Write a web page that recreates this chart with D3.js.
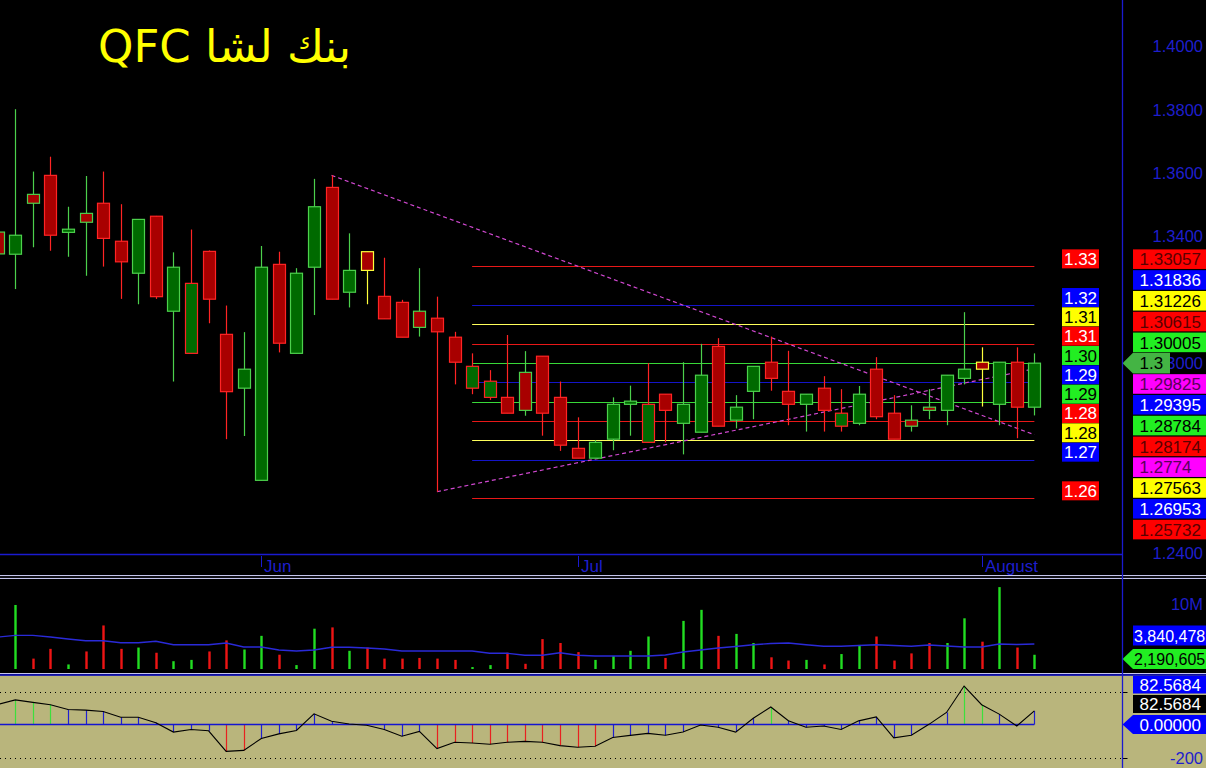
<!DOCTYPE html>
<html><head><meta charset="utf-8">
<script src="https://cdn.jsdelivr.net/npm/d3@7"></script>
<style>html,body{margin:0;padding:0;background:#000;overflow:hidden}</style>
</head><body>
<svg id="c" width="1206" height="768"></svg>
<script>
// ---------------- DATA ----------------
const title = "QFC بنك لشا";
const open  = [1.3414,1.3344,1.3533,1.3593,1.3413,1.3473,1.3505,1.3385,1.3284,1.3464,
               1.3164,1.3031,1.3353,1.3091,1.2921,1.2630,1.3312,1.3031,1.3303,1.3555,
               1.3224,1.3352,1.3211,1.3192,1.3164,1.3142,1.3082,1.2921,1.2892,1.2892,
               1.2971,1.3022,1.2892,1.2731,1.2700,1.2760,1.2870,1.2750,1.2902,1.2810,
               1.2782,1.3053,1.2820,1.2911,1.3003,1.2911,1.2870,1.2921,1.2801,1.2810,
               1.2981,1.2842,1.2820,1.2861,1.2851,1.2952,1.3003,1.2870,1.3003,1.2861];
const high  = [1.3436,1.3802,1.3605,1.3652,1.3494,1.3591,1.3605,1.3502,1.3454,1.3465,
               1.3350,1.3422,1.3356,1.3182,1.3098,1.3370,1.3352,1.3300,1.3582,1.3593,
               1.3410,1.3352,1.3333,1.3200,1.3300,1.3210,1.3099,1.3031,1.2978,1.3089,
               1.3038,1.3022,1.2942,1.2829,1.2757,1.2892,1.2929,1.3000,1.2902,1.3003,
               1.3061,1.3079,1.2899,1.2990,1.3084,1.3039,1.2902,1.2959,1.2918,1.2928,
               1.3019,1.2899,1.2867,1.2918,1.2962,1.3161,1.3050,1.3003,1.3050,1.3031];
const low   = [1.3320,1.3234,1.3366,1.3355,1.3336,1.3276,1.3305,1.3203,1.3186,1.3203,
               1.2942,1.3031,1.3126,1.2760,1.2770,1.2630,1.3034,1.3031,1.3152,1.3202,
               1.3176,1.3186,1.3140,1.3082,1.3084,1.2594,1.2933,1.2902,1.2884,1.2842,
               1.2834,1.2771,1.2723,1.2700,1.2700,1.2725,1.2771,1.2750,1.2750,1.2712,
               1.2782,1.2801,1.2794,1.2823,1.2913,1.2804,1.2784,1.2784,1.2784,1.2804,
               1.2823,1.2760,1.2784,1.2823,1.2804,1.2933,1.2863,1.2804,1.2763,1.2835];
const close = [1.3345,1.3404,1.3505,1.3404,1.3423,1.3445,1.3394,1.3320,1.3454,1.3210,
               1.3303,1.3252,1.3202,1.2910,1.2981,1.3303,1.3063,1.3284,1.3494,1.3202,
               1.3293,1.3293,1.3140,1.3082,1.3113,1.3099,1.3003,1.2990,1.2943,1.2842,
               1.2851,1.2842,1.2741,1.2700,1.2750,1.2870,1.2880,1.2870,1.2851,1.2870,
               1.2962,1.2801,1.2861,1.2990,1.2952,1.2870,1.2902,1.2851,1.2842,1.2902,
               1.2831,1.2760,1.2801,1.2851,1.2962,1.2981,1.2981,1.3003,1.2861,1.3000];
const volume = [3000000,9850000,1600000,3100000,700000,2700000,6700000,3100000,3300000,2500000,
                1200000,1400000,2700000,4400000,3000000,5100000,2200000,600000,6200000,6400000,
                2800000,3300000,1600000,1600000,1700000,1600000,1400000,300000,600000,2500000,
                800000,4600000,4000000,2600000,1400000,2000000,2800000,5000000,1700000,7400000,
                9100000,5100000,5400000,4000000,1800000,1300000,1400000,700000,2300000,3700000,
                5000000,1300000,2400000,4000000,4000000,7800000,4200000,12600000,3300000,2190605];
const volumeMA = [4.90,5.18,5.18,4.92,4.62,4.35,4.35,4.05,4.05,4.26,
                  3.74,3.74,3.74,4.00,3.38,3.38,2.92,2.77,2.92,3.34,
                  3.34,3.23,3.08,2.77,2.77,2.77,2.77,2.77,2.42,2.42,
                  2.11,2.11,2.51,2.11,2.00,2.00,2.00,2.00,2.15,2.62,
                  2.92,3.23,3.46,3.74,3.92,4.00,3.74,3.49,3.49,3.62,
                  3.74,3.62,3.49,3.69,3.54,3.38,3.38,3.85,3.77,3.840478]; // millions
const oscillator = [121,149,134,120,91,87,79,44,44,11,
                    -46,-30,-38,-163,-157,-85,-57,-36,65,20,
                    3,-5,-30,-71,-42,-146,-108,-112,-120,-108,
                    -102,-108,-128,-138,-132,-79,-66,-54,-65,-46,
                    -3,-17,-46,38,106,23,-17,-9,-30,22,
                    46,-81,-65,1,73,233,120,63,-9,82.5684];
const monthTickBars = [15,33,56];
const monthLabels = ["Jun","Jul","August"];
const priceTicks = [1.24,1.26,1.28,1.30,1.32,1.34,1.36,1.38,1.40];
const levels = [1.33057,1.31836,1.31226,1.30615,1.30005,1.29395,1.28784,1.28174,1.27563,1.26953,1.25732];
const levelKinds = ["red","blue","yellow","red","green","blue","green","red","yellow","blue","red"];
const levelFromBar = 27, levelToBar = 59;
const trendDown = [[19,1.3593],[59,1.2774]];
const trendUp   = [[25,1.2594],[59,1.29825]];
const oscTicks = [200,-200];

// ---------------- STYLE ----------------
const W=1206, H=768;
const AXIS_X=1122.5;
const C = {
  bg:"#000", axis:"#1a1ad0", axisText:"#1e1ecc",
  upFill:"#006a00", dnFill:"#a80000", upLine:"#4cd04c", dnLine:"#ff2424", flatLine:"#ffff3c",
  sep:"#c4c4ec", khaki:"#b9b57c", magenta:"#d048d0"
};
const lineCol = {red:"#e81818", blue:"#1414c8", yellow:"#ffff5a", green:"#38d838"};
const boxCol  = {red:"#ff0000", blue:"#0000ff", yellow:"#ffff00", green:"#22ee22", magenta:"#ff00ff"};
const leftTxt = {red:"#ffffff", blue:"#ffffff", yellow:"#000000", green:"#000000"};
const rightTxt= {red:"#5a0000", blue:"#ffffff", yellow:"#000000", green:"#000000", magenta:"#5a005a"};
const FONT = "'Liberation Sans', Arial, sans-serif";

const svg = d3.select("#c");
svg.append("rect").attr("width",W).attr("height",H).attr("fill",C.bg);

const n = close.length;
const x = d3.scalePoint().domain(d3.range(n)).range([-2.27, 1034.36]);
const bw = 12;
const y = d3.scaleLinear().domain([1.23974, 1.41468]).range([554, 0]);

// ---------- price pane ----------
const pane = svg.append("g");
pane.selectAll("line.lvl").data(levels).join("line")
  .attr("x1", x(levelFromBar)).attr("x2", x(levelToBar))
  .attr("y1", d=>Math.round(y(d))+0.5).attr("y2", d=>Math.round(y(d))+0.5)
  .attr("stroke",(d,i)=>lineCol[levelKinds[i]]).attr("stroke-width",1.2);
[trendDown,trendUp].forEach(t=>{
  pane.append("line").attr("x1",x(t[0][0])).attr("y1",y(t[0][1]))
    .attr("x2",x(t[1][0])).attr("y2",y(t[1][1]))
    .attr("stroke",C.magenta).attr("stroke-width",1.2).attr("stroke-dasharray","4,3");
});
const idx = d3.range(n);
const bord = i => { const pc = i===0 ? close[0]-0.001 : close[i-1];
  return close[i]>pc+1e-9 ? C.upLine : (close[i]<pc-1e-9 ? C.dnLine : C.flatLine); };
pane.selectAll("line.wick").data(idx).join("line")
  .attr("x1",i=>Math.round(x(i))+0.5).attr("x2",i=>Math.round(x(i))+0.5)
  .attr("y1",i=>y(high[i])).attr("y2",i=>y(low[i]))
  .attr("stroke",bord).attr("stroke-width",1.2);
pane.selectAll("rect.body").data(idx).join("rect")
  .attr("x",i=>Math.round(x(i))-bw/2+0.5)
  .attr("y",i=>y(Math.max(open[i],close[i])))
  .attr("width",bw)
  .attr("height",i=>Math.max(1.5, Math.abs(y(open[i])-y(close[i]))))
  .attr("fill",i=>close[i]>=open[i]?C.upFill:C.dnFill)
  .attr("stroke",bord).attr("stroke-width",1.2);

svg.append("line").attr("x1",0).attr("x2",AXIS_X).attr("y1",554.5).attr("y2",554.5)
  .attr("stroke",C.axis).attr("stroke-width",1.3);
monthTickBars.forEach((b,k)=>{
  const xx = Math.round(x(b))+0.5;
  svg.append("line").attr("x1",xx).attr("x2",xx).attr("y1",556).attr("y2",567)
    .attr("stroke",C.axis).attr("stroke-width",1);
  svg.append("text").attr("x",xx+2.5).attr("y",571.5).text(monthLabels[k])
    .attr("font-family",FONT).attr("font-size",17).attr("fill",C.axisText);
});

// right labels (stacked around the last price) - computed first so covered ticks can be skipped
const last = close[n-1];
const others = levels.map((v,i)=>({v,kind:levelKinds[i]}))
  .concat([{v:trendUp[1][1],kind:"magenta"},{v:trendDown[1][1],kind:"magenta"}]);
const PITCH=20.8;
const anchorY = y(last);
const above = others.filter(d=>d.v>last).sort((a,b)=>a.v-b.v);
const below = others.filter(d=>d.v<=last).sort((a,b)=>b.v-a.v);
let prev = anchorY;
above.forEach(d=>{ d.cy = Math.min(y(d.v), prev-PITCH); prev=d.cy; });
prev = anchorY;
below.forEach(d=>{ d.cy = Math.max(y(d.v), prev+PITCH); prev=d.cy; });
const boxes = above.concat(below);
const covered = t => Math.abs(y(t)-anchorY) > 3 && boxes.some(b=>Math.abs(b.cy-y(t))<11);

// price tick labels (those fully hidden behind the value boxes are not drawn)
svg.selectAll("text.pt").data(priceTicks.filter(t=>!covered(t))).join("text")
  .attr("x",1203).attr("y",d=>y(d)+6).attr("text-anchor","end")
  .attr("font-family",FONT).attr("font-size",16.5).attr("fill",C.axisText)
  .text(d=>d3.format(".4f")(d));

// left level labels
const lg = svg.append("g");
levels.forEach((v,i)=>{
  const cy = y(v)-7.5;
  lg.append("rect").attr("x",1062).attr("y",cy-9.5).attr("width",37).attr("height",19)
    .attr("fill",boxCol[levelKinds[i]]);
  lg.append("text").attr("x",1080.5).attr("y",cy+6).attr("text-anchor","middle")
    .attr("font-family",FONT).attr("font-size",17).attr("fill",leftTxt[levelKinds[i]])
    .text(d3.format(".2f")(v));
});

const fmt = d3.format(".5~f");
const rg = svg.append("g");
boxes.forEach(d=>{
  rg.append("rect").attr("x",1133).attr("y",d.cy-9.8).attr("width",80).attr("height",19.6)
    .attr("fill",boxCol[d.kind]);
  rg.append("text").attr("x",1139.5).attr("y",d.cy+6.2)
    .attr("font-family",FONT).attr("font-size",17).attr("fill",rightTxt[d.kind]).text(fmt(d.v));
});
rg.append("path").attr("d",`M${AXIS_X},${anchorY} L1133,${anchorY-10.3} L1170,${anchorY-10.3} L1170,${anchorY+10.3} L1133,${anchorY+10.3} Z`)
  .attr("fill","#44b444");
rg.append("text").attr("x",1139.5).attr("y",anchorY+6.2).attr("font-family",FONT)
  .attr("font-size",17).attr("fill","#000").text(fmt(last));

// ---------- volume pane ----------
const yv = d3.scaleLinear().domain([0,10000000]).range([669,604]);
svg.selectAll("rect.vol").data(idx).join("rect")
  .attr("x",i=>Math.round(x(i))-0.7).attr("width",2.4)
  .attr("y",i=>yv(volume[i])).attr("height",i=>669-yv(volume[i]))
  .attr("fill",i=>close[i]>=open[i]?"#22dd22":"#ee1414");
svg.append("path").datum(idx)
  .attr("d",d3.line().x(i=>x(i)).y(i=>yv(volumeMA[i]*1e6)))
  .attr("fill","none").attr("stroke","#2a2ad8").attr("stroke-width",1.4);
svg.append("text").attr("x",1203).attr("y",yv(10000000)+6).attr("text-anchor","end")
  .attr("font-family",FONT).attr("font-size",16.5).attr("fill",C.axisText).text("10M");
const vfmt = d3.format(",.0f");
const maLast = volumeMA[n-1]*1e6;
svg.append("rect").attr("x",1133).attr("y",625.5).attr("width",80).attr("height",20).attr("fill","#0000ff");
svg.append("text").attr("x",1134).attr("y",641.5).attr("font-family",FONT).attr("font-size",16)
  .attr("fill","#fff").text(vfmt(maLast));
const vy = 659;
svg.append("path").attr("d",`M${AXIS_X},${vy} L1133,${vy-10} L1213,${vy-10} L1213,${vy+10} L1133,${vy+10} Z`).attr("fill","#22ee22");
svg.append("text").attr("x",1134).attr("y",vy+6).attr("font-family",FONT).attr("font-size",16)
  .attr("fill","#000").text(vfmt(volume[n-1]));

// ---------- oscillator pane ----------
const yo = d3.scaleLinear().domain([-200,200]).range([757.5,691.5]);
svg.append("rect").attr("x",0).attr("y",675.5).attr("width",W).attr("height",H-675.5).attr("fill",C.khaki);
oscTicks.forEach(t=>{
  svg.append("line").attr("x1",0).attr("x2",AXIS_X).attr("y1",Math.round(yo(t))+0.5).attr("y2",Math.round(yo(t))+0.5)
    .attr("stroke","#000").attr("stroke-width",1).attr("stroke-dasharray","1,4");
  svg.append("line").attr("x1",AXIS_X).attr("x2",AXIS_X+5).attr("y1",Math.round(yo(t))+0.5).attr("y2",Math.round(yo(t))+0.5)
    .attr("stroke","#000").attr("stroke-width",1);
});
svg.selectAll("line.osc").data(idx).join("line")
  .attr("x1",i=>Math.round(x(i))+0.5).attr("x2",i=>Math.round(x(i))+0.5)
  .attr("y1",yo(0)).attr("y2",i=>yo(oscillator[i]))
  .attr("stroke",i=>oscillator[i]>100?"#3ce03c":(oscillator[i]<-100?"#e82020":"#2020d0"))
  .attr("stroke-width",1.2);
svg.append("line").attr("x1",0).attr("x2",x(n-1)).attr("y1",yo(0)).attr("y2",yo(0))
  .attr("stroke","#1414d0").attr("stroke-width",1.5);
svg.append("path").datum(idx)
  .attr("d",d3.line().x(i=>x(i)).y(i=>yo(oscillator[i])))
  .attr("fill","none").attr("stroke","#000").attr("stroke-width",1.1);
const ofmt = d3.format(".4f");
svg.append("rect").attr("x",1133).attr("y",676).attr("width",80).attr("height",17.5).attr("fill","#0000ff");
svg.append("text").attr("x",1139.5).attr("y",690.5).attr("font-family",FONT).attr("font-size",17)
  .attr("fill","#fff").text(ofmt(oscillator[n-1]));
svg.append("rect").attr("x",1133).attr("y",695).attr("width",80).attr("height",18).attr("fill","#000");
svg.append("text").attr("x",1139.5).attr("y",709.5).attr("font-family",FONT).attr("font-size",17)
  .attr("fill","#fff").text(ofmt(oscillator[n-1]));
const zy = yo(0);
svg.append("path").attr("d",`M${AXIS_X},${zy} L1133,${zy-9.5} L1213,${zy-9.5} L1213,${zy+9.5} L1133,${zy+9.5} Z`).attr("fill","#0000ff");
svg.append("text").attr("x",1139.5).attr("y",zy+6.2).attr("font-family",FONT).attr("font-size",17)
  .attr("fill","#fff").text(d3.format(".5f")(0));
svg.append("text").attr("x",1203).attr("y",yo(-200)+6).attr("text-anchor","end")
  .attr("font-family",FONT).attr("font-size",16.5).attr("fill",C.axisText).text(String(oscTicks[1]));

// ---------- separators & right axis ----------
[575.5,578.5].forEach(yy=>svg.append("line").attr("x1",0).attr("x2",W).attr("y1",yy).attr("y2",yy)
  .attr("stroke",C.sep).attr("stroke-width",1));
svg.append("rect").attr("x",0).attr("y",576).attr("width",W).attr("height",2).attr("fill","#101018");
svg.append("line").attr("x1",0).attr("x2",W).attr("y1",673.5).attr("y2",673.5).attr("stroke",C.sep).attr("stroke-width",1);
svg.append("line").attr("x1",0).attr("x2",W).attr("y1",675).attr("y2",675).attr("stroke","#1414d0").attr("stroke-width",1.5);
svg.append("line").attr("x1",AXIS_X).attr("x2",AXIS_X).attr("y1",0).attr("y2",H)
  .attr("stroke",C.axis).attr("stroke-width",1.3);

// ---------- title ----------
svg.append("text").attr("x",98).attr("y",62).attr("direction","ltr")
  .attr("font-family","'DejaVu Sans', sans-serif").attr("font-size",45).attr("fill","#ffff00")
  .text(title);
</script>
</body></html>
